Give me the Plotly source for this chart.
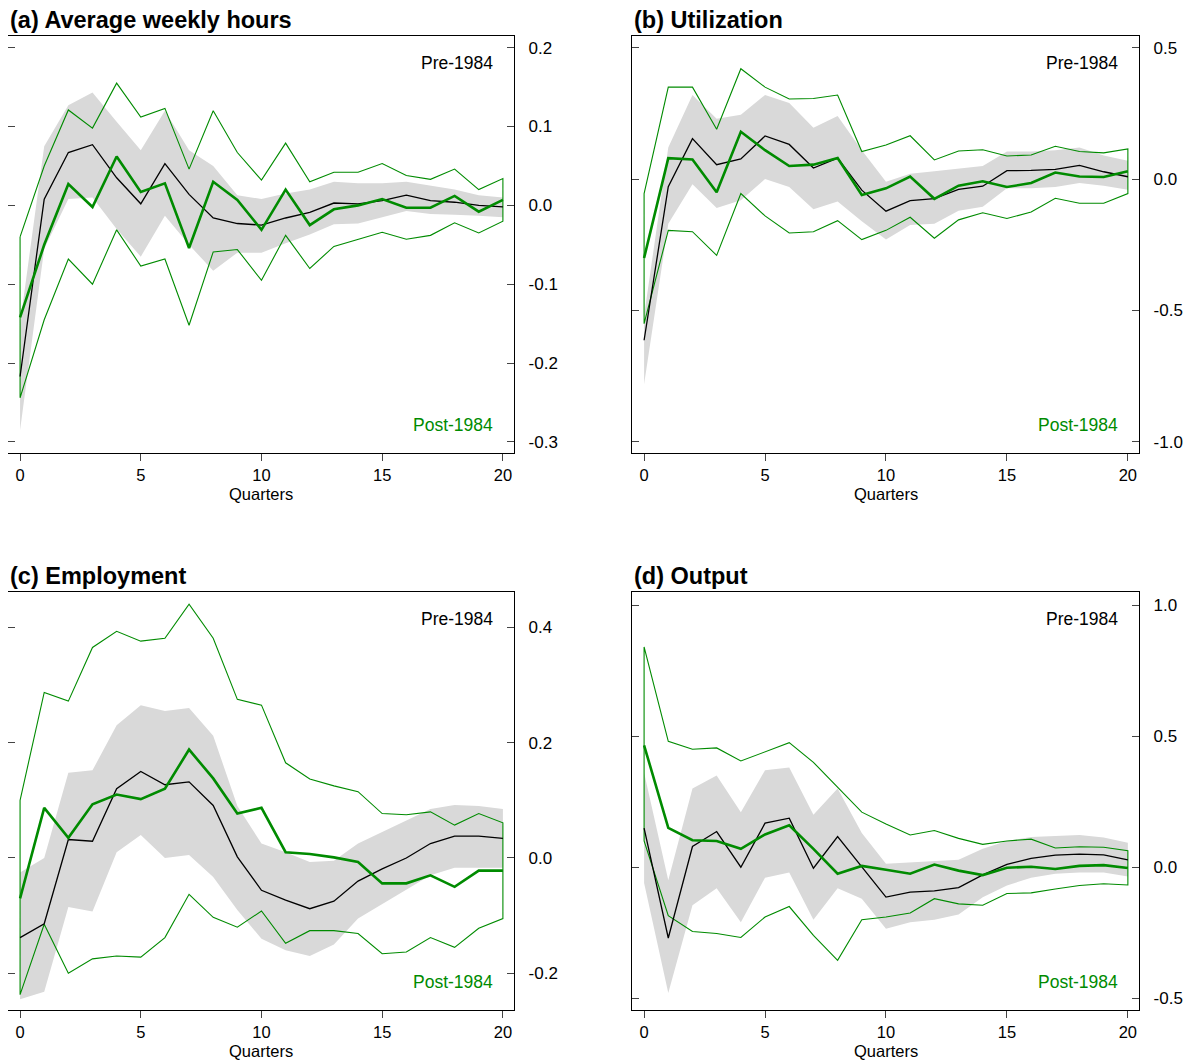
import plotly.graph_objects as go

W, H = 1193, 1064
# the page puts the plot 8px in from the top-left corner
OX, OY = 8, 8
GREEN = "#008b00"
GREY = "#d9d9d9"

quarters = list(range(21))

# (a) Average weekly hours
hours_pre = [-0.217, 0.008, 0.067, 0.077, 0.035, 0.002, 0.053, 0.014, -0.016, -0.023, -0.025,
             -0.016, -0.009, 0.003, 0.002, 0.006, 0.013, 0.006, 0.004, 0.0, -0.002]
hours_pre_hi = [-0.15, 0.075, 0.127, 0.143, 0.106, 0.07, 0.12, 0.07, 0.05, 0.013, 0.008,
                0.015, 0.02, 0.03, 0.028, 0.028, 0.03, 0.025, 0.02, 0.013, 0.01]
hours_pre_lo = [-0.285, -0.055, 0.008, 0.01, -0.03, -0.065, -0.013, -0.05, -0.083, -0.06, -0.06,
                -0.048, -0.037, -0.024, -0.023, -0.015, -0.007, -0.011, -0.012, -0.013, -0.015]
hours_post = [-0.142, -0.05, 0.027, -0.002, 0.062, 0.017, 0.028, -0.054, 0.03, 0.007, -0.031,
              0.02, -0.025, -0.005, 0.0, 0.008, -0.003, -0.003, 0.012, -0.008, 0.007]
hours_post_hi = [-0.04, 0.05, 0.121, 0.098, 0.155, 0.112, 0.123, 0.046, 0.12, 0.067, 0.032,
                 0.079, 0.03, 0.042, 0.042, 0.053, 0.038, 0.033, 0.046, 0.02, 0.034]
hours_post_lo = [-0.244, -0.145, -0.068, -0.1, -0.031, -0.077, -0.068, -0.152, -0.059, -0.056, -0.095,
                 -0.038, -0.08, -0.052, -0.043, -0.034, -0.043, -0.038, -0.022, -0.035, -0.02]

# (b) Utilization
util_pre = [-0.613, -0.029, 0.154, 0.055, 0.077, 0.164, 0.132, 0.042, 0.08, -0.042, -0.122,
            -0.082, -0.074, -0.039, -0.027, 0.032, 0.033, 0.037, 0.052, 0.028, 0.009]
util_pre_hi = [-0.52, 0.12, 0.32, 0.23, 0.245, 0.32, 0.29, 0.195, 0.24, 0.11, -0.01,
               0.02, 0.03, 0.04, 0.05, 0.105, 0.105, 0.11, 0.12, 0.09, 0.07]
util_pre_lo = [-0.78, -0.17, -0.02, -0.11, -0.08, 0.0, -0.03, -0.115, -0.085, -0.16, -0.23,
               -0.175, -0.17, -0.12, -0.105, -0.035, -0.035, -0.03, -0.015, -0.025, -0.04]
util_post = [-0.3, 0.08, 0.075, -0.05, 0.18, 0.11, 0.05, 0.055, 0.08, -0.06, -0.035,
             0.01, -0.075, -0.025, -0.008, -0.03, -0.015, 0.025, 0.01, 0.008, 0.03]
util_post_hi = [-0.055, 0.35, 0.35, 0.19, 0.42, 0.35, 0.305, 0.307, 0.32, 0.105, 0.13,
                0.165, 0.073, 0.107, 0.112, 0.088, 0.092, 0.125, 0.105, 0.1, 0.115]
util_post_lo = [-0.55, -0.195, -0.2, -0.29, -0.055, -0.14, -0.205, -0.2, -0.158, -0.23, -0.195,
                -0.145, -0.225, -0.155, -0.128, -0.15, -0.125, -0.073, -0.092, -0.092, -0.055]

# (c) Employment
emp_pre = [-0.138, -0.114, 0.032, 0.029, 0.12, 0.15, 0.127, 0.132, 0.091, 0.002, -0.056,
           -0.073, -0.088, -0.075, -0.04, -0.019, 0.0, 0.025, 0.038, 0.038, 0.034]
emp_pre_hi = [-0.025, 0.0, 0.148, 0.152, 0.23, 0.265, 0.255, 0.26, 0.212, 0.09, 0.025,
              0.01, -0.007, -0.005, 0.025, 0.045, 0.065, 0.085, 0.092, 0.09, 0.085]
emp_pre_lo = [-0.245, -0.232, -0.085, -0.093, 0.01, 0.04, 0.0, 0.005, -0.033, -0.09, -0.14,
              -0.16, -0.17, -0.15, -0.105, -0.08, -0.055, -0.03, -0.017, -0.017, -0.017]
emp_post = [-0.07, 0.087, 0.035, 0.093, 0.11, 0.102, 0.12, 0.188, 0.138, 0.077, 0.087,
            0.01, 0.007, 0.001, -0.007, -0.044, -0.044, -0.03, -0.05, -0.022, -0.022]
emp_post_hi = [0.1, 0.287, 0.272, 0.365, 0.393, 0.376, 0.381, 0.44, 0.381, 0.275, 0.265,
               0.165, 0.137, 0.125, 0.115, 0.077, 0.075, 0.08, 0.057, 0.077, 0.061]
emp_post_lo = [-0.237, -0.115, -0.2, -0.175, -0.17, -0.172, -0.138, -0.063, -0.103, -0.12, -0.092,
               -0.148, -0.126, -0.126, -0.131, -0.166, -0.163, -0.138, -0.155, -0.122, -0.105]

# (d) Output
out_pre = [0.149, -0.27, 0.079, 0.136, 0.0, 0.168, 0.187, -0.004, 0.117, 0.003, -0.114,
           -0.095, -0.09, -0.078, -0.029, 0.011, 0.034, 0.046, 0.05, 0.047, 0.028]
out_pre_hi = [0.36, -0.05, 0.3, 0.35, 0.21, 0.37, 0.38, 0.2, 0.3, 0.13, 0.013,
              0.018, 0.023, 0.028, 0.07, 0.1, 0.115, 0.12, 0.123, 0.113, 0.093]
out_pre_lo = [-0.06, -0.48, -0.145, -0.08, -0.21, -0.04, -0.02, -0.2, -0.08, -0.12, -0.235,
              -0.21, -0.2, -0.18, -0.115, -0.07, -0.04, -0.025, -0.02, -0.02, -0.035]
out_post = [0.465, 0.15, 0.103, 0.1, 0.07, 0.125, 0.16, 0.07, -0.025, 0.005, -0.01,
            -0.025, 0.01, -0.013, -0.03, -0.002, 0.002, -0.007, 0.005, 0.008, -0.003]
out_post_hi = [0.84, 0.48, 0.45, 0.455, 0.405, 0.44, 0.475, 0.4, 0.305, 0.21, 0.165,
               0.123, 0.14, 0.11, 0.087, 0.1, 0.107, 0.073, 0.078, 0.076, 0.063]
out_post_lo = [0.1, -0.185, -0.245, -0.253, -0.268, -0.19, -0.15, -0.26, -0.355, -0.2, -0.19,
               -0.175, -0.12, -0.14, -0.145, -0.1, -0.098, -0.083, -0.07, -0.063, -0.068]

titles = ["(a) Average weekly hours", "(b) Utilization", "(c) Employment", "(d) Output"]
ytick_vals = [[0.2, 0.1, 0.0, -0.1, -0.2, -0.3], [0.5, 0.0, -0.5, -1.0],
              [0.4, 0.2, 0.0, -0.2], [1.0, 0.5, 0.0, -0.5]]
ytick_text = [["0.2", "0.1", "0.0", "-0.1", "-0.2", "-0.3"], ["0.5", "0.0", "-0.5", "-1.0"],
              ["0.4", "0.2", "0.0", "-0.2"], ["1.0", "0.5", "0.0", "-0.5"]]
y_ranges = [[-0.314, 0.2148], [-1.042, 0.5445], [-0.2636, 0.4612], [-0.5446, 1.0496]]

panels = [
    (hours_pre, hours_pre_hi, hours_pre_lo, hours_post, hours_post_hi, hours_post_lo),
    (util_pre, util_pre_hi, util_pre_lo, util_post, util_post_hi, util_post_lo),
    (emp_pre, emp_pre_hi, emp_pre_lo, emp_post, emp_post_hi, emp_post_lo),
    (out_pre, out_pre_hi, out_pre_lo, out_post, out_post_hi, out_post_lo),
]

# panel boxes in screen pixels: left, right, top, bottom
boxes = [(8, 514, 36, 453), (632, 1139, 36, 453), (8, 514, 592, 1010), (632, 1139, 592, 1010)]

fig = go.Figure()
annotations = []
font = "Liberation Sans, Arial, sans-serif"


def px(x):
    return (x - OX) / W


def py(y):
    return 1 - (y - OY) / H


for i, (pre, pre_hi, pre_lo, post, post_hi, post_lo) in enumerate(panels):
    n = i + 1
    xa = "x" if n == 1 else "x%d" % n
    ya = "y" if n == 1 else "y%d" % n
    loop_x = quarters + quarters[::-1]

    fig.add_trace(go.Scatter(x=loop_x, y=pre_hi + pre_lo[::-1], fill="toself", fillcolor=GREY,
                             line=dict(width=0), mode="lines", xaxis=xa, yaxis=ya,
                             showlegend=False, hoverinfo="skip"))
    fig.add_trace(go.Scatter(x=loop_x + [0], y=post_hi + post_lo[::-1] + [post_hi[0]],
                             mode="lines", line=dict(color=GREEN, width=1.1),
                             xaxis=xa, yaxis=ya, showlegend=False))
    fig.add_trace(go.Scatter(x=quarters, y=pre, mode="lines", line=dict(color="black", width=1.3),
                             xaxis=xa, yaxis=ya, showlegend=False))
    fig.add_trace(go.Scatter(x=quarters, y=post, mode="lines", line=dict(color=GREEN, width=2.6),
                             xaxis=xa, yaxis=ya, showlegend=False))

    l, r, t, b = boxes[i]
    key = "" if n == 1 else str(n)
    fig.layout["xaxis" + key] = dict(
        domain=[px(l), px(r)], range=[-0.5, 20.46], anchor=ya,
        tickvals=[0, 5, 10, 15, 20], ticks="outside", ticklen=7, tickwidth=1,
        showline=True, linecolor="black", linewidth=1.3, mirror=True,
        showgrid=False, zeroline=False, ticklabelstandoff=0,
        tickfont=dict(size=16.5, color="black", family=font))
    fig.layout["yaxis" + key] = dict(
        domain=[py(b), py(t)], range=y_ranges[i], anchor=xa, side="right",
        tickvals=ytick_vals[i], ticktext=ytick_text[i], ticks="inside", ticklen=7, tickwidth=1,
        showline=True, linecolor="black", linewidth=1.3, mirror="ticks",
        showgrid=False, zeroline=False, ticklabelstandoff=10,
        tickfont=dict(size=17, color="black", family=font))

    annotations.append(dict(text="<b>%s</b>" % titles[i], xref="paper", yref="paper",
                            x=px(l + 1), y=py(t - 16), xanchor="left", yanchor="middle",
                            borderpad=0, showarrow=False,
                            font=dict(size=23.5, color="black", family=font)))
    annotations.append(dict(text="Pre-1984", xref="paper", yref="paper",
                            x=px(r - 19), y=py(t + 27), xanchor="right", yanchor="middle",
                            showarrow=False, font=dict(size=17.5, color="black", family=font)))
    annotations.append(dict(text="Post-1984", xref="paper", yref="paper",
                            x=px(r - 19), y=py(b - 28), xanchor="right", yanchor="middle",
                            showarrow=False, font=dict(size=17.5, color=GREEN, family=font)))
    annotations.append(dict(text="Quarters", xref=xa, yref="paper",
                            x=10, y=py(b + 41), xanchor="center", yanchor="middle",
                            borderpad=0, showarrow=False,
                            font=dict(size=16.5, color="black", family=font)))

fig.update_layout(width=W, height=H, margin=dict(l=0, r=0, t=0, b=0),
                  plot_bgcolor="white", paper_bgcolor="white", annotations=annotations)

fig.write_html("out.html")
